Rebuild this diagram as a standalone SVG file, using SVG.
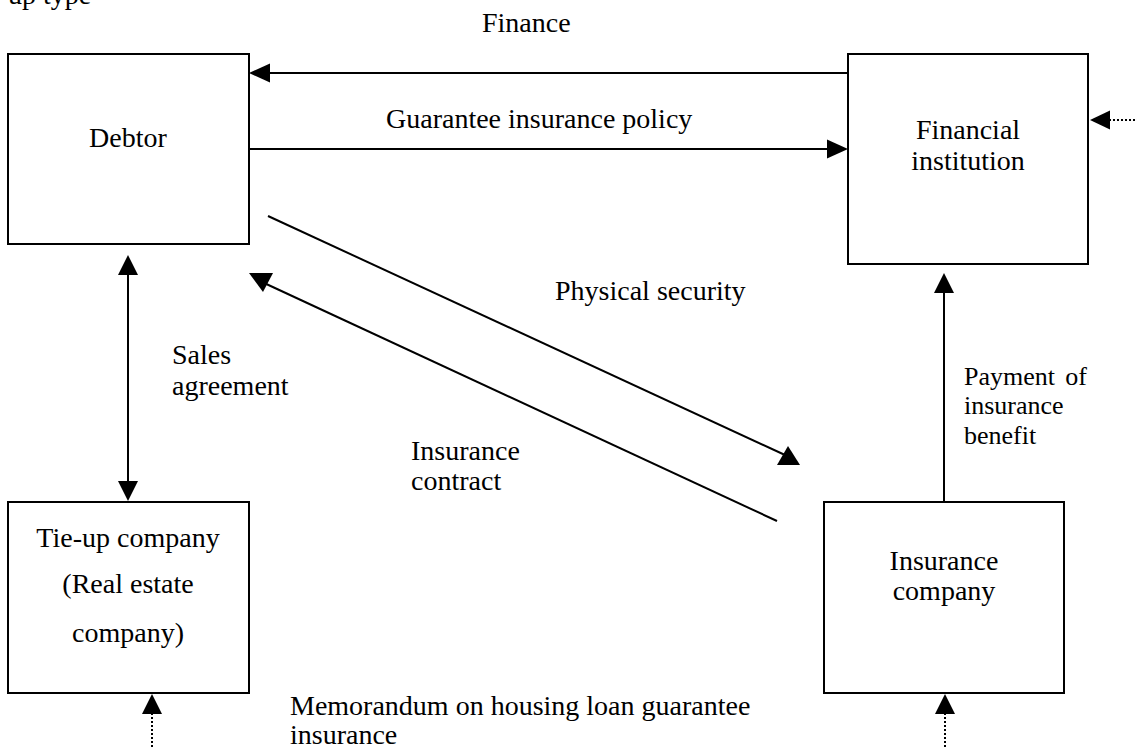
<svg xmlns="http://www.w3.org/2000/svg" width="1135" height="748" viewBox="0 0 1135 748">
  <style>
    .box { fill: #fff; stroke: #000; stroke-width: 2; }
    .ln { fill: none; stroke: #000; stroke-width: 2; }
    .dot { fill: none; stroke: #000; stroke-width: 2; stroke-dasharray: 2 2; }
    .head { fill: #000; stroke: none; }
    text { font-family: "Liberation Serif", "Times New Roman", serif; font-size: 28px; fill: #000; }
    .c { text-anchor: middle; }
    .sm { font-size: 26px; }
  </style>

  <rect width="1135" height="748" fill="#fff"/>

  <!-- caption line cut at the top edge -->
  <text x="8" y="4">up type</text>

  <!-- nodes -->
  <g id="debtor">
    <rect class="box" x="8" y="54" width="241" height="190"/>
    <text x="89" y="147">Debtor</text>
  </g>
  <g id="financial-institution">
    <rect class="box" x="848" y="54" width="240" height="210"/>
    <text class="c" x="968" y="139">Financial</text>
    <text class="c" x="968" y="170">institution</text>
  </g>
  <g id="tie-up-company">
    <rect class="box" x="8" y="502" width="241" height="191"/>
    <text class="c" x="128" y="547">Tie-up company</text>
    <text class="c" x="128" y="593">(Real estate</text>
    <text class="c" x="128" y="642">company)</text>
  </g>
  <g id="insurance-company">
    <rect class="box" x="824" y="502" width="240" height="191"/>
    <text class="c" x="944" y="570">Insurance</text>
    <text class="c" x="944" y="600">company</text>
  </g>

  <!-- connectors -->
  <g id="connectors">
    <!-- Finance: institution to debtor -->
    <line class="ln" x1="848" y1="73" x2="268" y2="73"/>
    <polygon class="head" points="249,73 270,63.5 270,82.5"/>
    <!-- Guarantee insurance policy: debtor to institution -->
    <line class="ln" x1="249" y1="149" x2="830" y2="149"/>
    <polygon class="head" points="848,149 827,139.5 827,158.5"/>
    <!-- external feed into institution -->
    <line class="dot" x1="1109" y1="120" x2="1135" y2="120"/>
    <polygon class="head" points="1090,120 1110,110.5 1110,129.5"/>
    <!-- Sales agreement: debtor and tie-up company -->
    <line class="ln" x1="128" y1="272" x2="128" y2="484"/>
    <polygon class="head" points="128,255 118,275 138,275"/>
    <polygon class="head" points="128,501 118,481 138,481"/>
    <!-- Physical security: debtor to insurer -->
    <line class="ln" x1="268" y1="216" x2="785" y2="455"/>
    <polygon class="head" points="788,446 777,465 800,465"/>
    <!-- Insurance contract: insurer to debtor -->
    <line class="ln" x1="777" y1="521" x2="262" y2="282"/>
    <polygon class="head" points="249,273 273,273 263,292"/>
    <!-- Payment of insurance benefit: insurer to institution -->
    <line class="ln" x1="944" y1="502" x2="944" y2="290"/>
    <polygon class="head" points="944,273 934,293 954,293"/>
    <!-- external feeds into the lower nodes -->
    <line class="dot" x1="152" y1="713" x2="152" y2="748"/>
    <polygon class="head" points="152,694 142,714 162,714"/>
    <line class="dot" x1="945" y1="713" x2="945" y2="748"/>
    <polygon class="head" points="945,694 935,714 955,714"/>
  </g>

  <!-- connector labels -->
  <text x="482" y="32">Finance</text>
  <text x="386" y="128">Guarantee insurance policy</text>
  <text x="555" y="300">Physical security</text>
  <text x="172" y="364">Sales</text>
  <text x="172" y="395">agreement</text>
  <text class="sm" x="964" y="385">Payment</text>
  <text class="sm" x="1087" y="385" text-anchor="end">of</text>
  <text class="sm" x="964" y="414">insurance</text>
  <text class="sm" x="964" y="444">benefit</text>
  <text x="411" y="460">Insurance</text>
  <text x="411" y="490">contract</text>
  <text x="290" y="715">Memorandum on housing loan guarantee</text>
  <text x="290" y="744">insurance</text>
</svg>
